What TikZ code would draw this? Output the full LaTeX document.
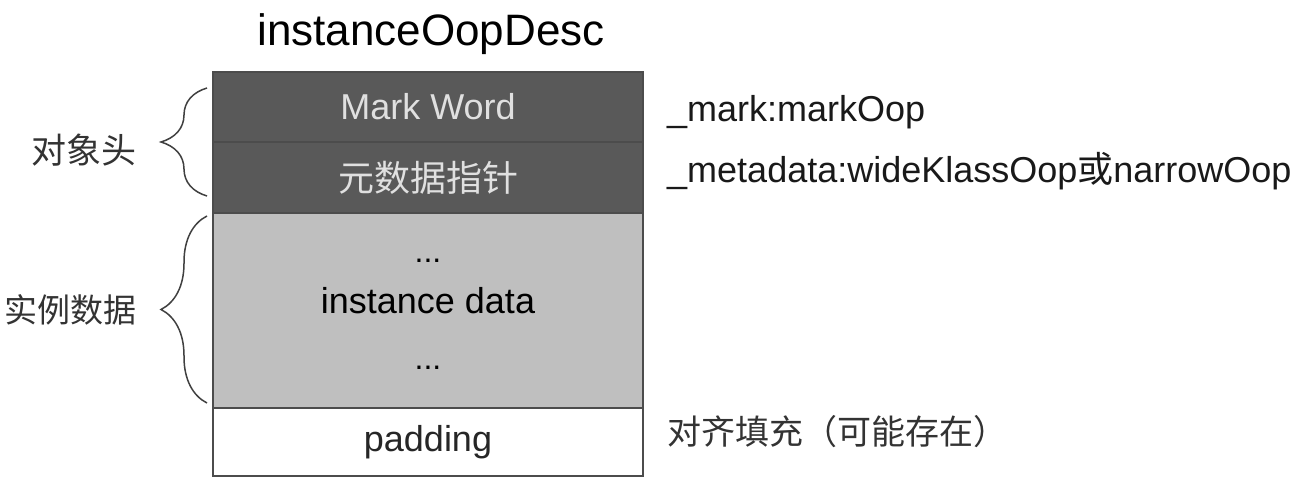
\documentclass[tikz,border=0pt]{standalone}
\usepackage{fontspec}
\setmainfont{Liberation Sans}
\newfontfamily\cjk{Noto Sans CJK SC}
\usetikzlibrary{positioning, decorations.pathreplacing}

\begin{document}
\begin{tikzpicture}[
    x=1pt, y=-1pt,
    % Styles
    cell/.style={draw=black!70, line width=1.5pt, minimum width=430pt, inner sep=0pt, outer sep=0pt, font=\fontsize{36}{40}\selectfont},
    header/.style={cell, fill=black!65, text=black!12},
    body/.style={cell, fill=black!25, text=black},
    padcell/.style={cell, fill=white, text=black!85},
    curly/.style={decorate, decoration={brace, amplitude=46pt}, line width=1.5pt, black!75},
    side/.style={font=\fontsize{35}{40}\selectfont\cjk, text=black!80, inner sep=0pt},
    field/.style={font=\fontsize{36}{40}\selectfont, anchor=base west, inner sep=0pt, text=black!90},
]
\useasboundingbox (0,0) rectangle (1310,481);

% Title
\node[font=\fontsize{44}{48}\selectfont, anchor=base, inner sep=0pt] (title) at (431,46) {instanceOopDesc};

% Object layout
\node[header, minimum height=70pt, anchor=north west] (mark) at (213,72) {Mark Word};
\node[header, minimum height=71pt, below=0pt of mark, font=\fontsize{36}{40}\selectfont\cjk] (meta) {元数据指针};
\node[body, minimum height=195pt, below=0pt of meta] (inst) {};
\node[padcell, minimum height=68pt, below=0pt of inst] (pad) {padding};

% Instance data text
\node[anchor=base, font=\fontsize{32}{36}\selectfont] (dotsup) at ([yshift=47.5pt]inst.center) {...};
\node[anchor=base, font=\fontsize{36}{40}\selectfont] (insttext) at ([yshift=-2.5pt]inst.center) {instance data};
\node[anchor=base, font=\fontsize{32}{36}\selectfont] (dotsdown) at ([yshift=-58.5pt]inst.center) {...};

% Fields on the right
\node[field] (markf) at ([xshift=24pt, yshift=-15pt]mark.east) {\_mark:markOop};
\node[field] (metaf) at ([xshift=24pt, yshift=-5.5pt]meta.east) {\_metadata:wideKlassOop{\cjk 或}narrowOop};
\node[field, font=\fontsize{34}{38}\selectfont\cjk, text=black!80] (padf) at ([xshift=24pt, yshift=-2pt]pad.east) {对齐填充（可能存在）};

% Braces
\draw[curly] ([xshift=-6pt, yshift=17pt]meta.south west) -- ([xshift=-6pt, yshift=-16pt]mark.north west)
    node[side, midway, left=70pt, yshift=-8.5pt] (headlbl) {对象头};
\draw[curly] ([xshift=-6pt, yshift=5pt]inst.south west) -- ([xshift=-6pt, yshift=-3pt]inst.north west)
    node[side, midway, left=70pt, font=\fontsize{33}{38}\selectfont\cjk] (datalbl) {实例数据};

\end{tikzpicture}
\end{document}
